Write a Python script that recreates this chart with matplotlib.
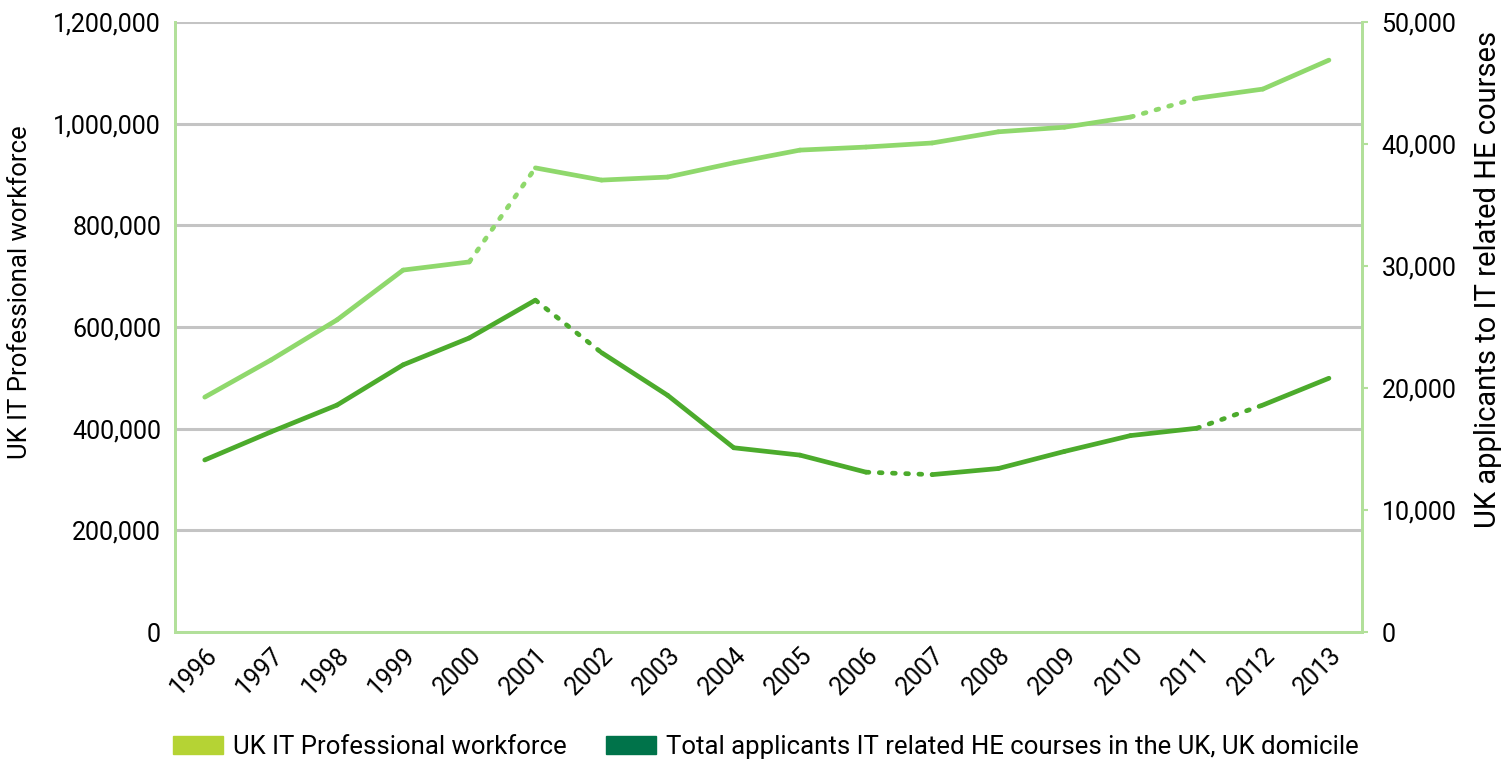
import matplotlib.pyplot as plt
from matplotlib.patches import Patch
from matplotlib.ticker import FuncFormatter

plt.rcParams['font.family'] = ['Roboto', 'DejaVu Sans']

# Daten
jahre = ['1996', '1997', '1998', '1999', '2000', '2001', '2002', '2003', '2004',
         '2005', '2006', '2007', '2008', '2009', '2010', '2011', '2012', '2013']
workforce = [462000, 535000, 614000, 712000, 728000, 913000, 889000, 895000, 923000,
             948000, 954000, 962000, 984000, 993000, 1013000, 1050000, 1068000, 1125000]
applicants = [14100, 16400, 18600, 21900, 24100, 27200, 22900, 19400, 15100,
              14500, 13100, 12900, 13400, 14800, 16100, 16700, 18600, 20800]
# Intervalle (Startindex), die gepunktet gezeichnet sind
workforce_punkte = [4, 14]
applicants_punkte = [5, 10, 15]

c_work = '#8fd86c'
c_appl = '#4cab2c'
c_achse = '#b2e09a'


def zeichne(ax, werte, punkte, farbe):
    x = range(len(werte))
    for i in range(len(werte) - 1):
        if i in punkte:
            ax.plot(x[i:i + 2], werte[i:i + 2], color=farbe, lw=3.4,
                    linestyle=(0, (0.6, 2.2)), dash_capstyle='round')
        else:
            ax.plot(x[i:i + 2], werte[i:i + 2], color=farbe, lw=3.4,
                    solid_capstyle='round')


fig = plt.figure(figsize=(15.08, 7.6), dpi=100)
ax = fig.add_axes([175 / 1508, 1 - 632 / 760, (1362 - 175) / 1508, 610 / 760])
ax2 = ax.twinx()

zeichne(ax, workforce, workforce_punkte, c_work)
zeichne(ax2, applicants, applicants_punkte, c_appl)

ax.set_xlim(-0.45, 17.5)
ax.set_ylim(0, 1200000)
ax2.set_ylim(0, 50000)
ax.set_yticks(range(0, 1200001, 200000))
ax2.set_yticks(range(0, 50001, 10000))
fmt = FuncFormatter(lambda v, p: f'{int(v):,}')
ax.yaxis.set_major_formatter(fmt)
ax2.yaxis.set_major_formatter(fmt)

ax.set_xticks(range(len(jahre)))
ax.set_xticklabels(jahre, rotation=45, ha='right', rotation_mode='anchor')

ax.grid(axis='y', color='#c4c4c4', lw=2.2)
ax.set_axisbelow(True)

for a in (ax, ax2):
    a.spines['top'].set_visible(False)
    for s in ('left', 'right', 'bottom'):
        a.spines[s].set_color(c_achse)
        a.spines[s].set_linewidth(2)
    a.tick_params(labelsize=18, colors='black')
ax.tick_params(axis='y', length=0, pad=10)
ax.tick_params(axis='x', length=0, pad=8)
ax2.tick_params(axis='y', length=4, width=1.5, color=c_achse, pad=10)

ax.set_ylabel('UK IT Professional workforce', fontsize=18.5)
ax2.set_ylabel('UK applicants to IT related HE courses', fontsize=21)
ax.yaxis.set_label_coords(-0.1205, 0.557)
ax2.yaxis.set_label_coords(1.094, 0.578)

handles = [Patch(color='#b5d334', label='UK IT Professional workforce'),
           Patch(color='#00734a', label='Total applicants IT related HE courses in the UK, UK domicile')]
fig.legend(handles=handles, loc='center left', bbox_to_anchor=(173 / 1508, 1 - 747 / 760),
           ncol=2, frameon=False, fontsize=18.5, handlelength=1.95, handleheight=0.75,
           handletextpad=0.4, columnspacing=1.5, borderaxespad=0, borderpad=0)

fig.savefig('out.png', dpi=100)
